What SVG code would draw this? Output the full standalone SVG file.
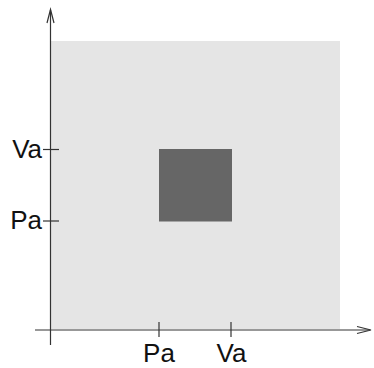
<svg xmlns="http://www.w3.org/2000/svg" width="374" height="368" viewBox="0 0 374 368">
<style>
.ax{stroke:#333;stroke-width:1.2;fill:none}
.lbl{font-family:"Liberation Sans",Arial,sans-serif;font-size:26px;fill:#111}
</style>
<rect width="374" height="368" fill="#fff"/>
<g id="region">
<rect x="51" y="41" width="289" height="288" fill="#e5e5e5"/>
</g>
<g id="square">
<rect x="159" y="149" width="73" height="72.5" fill="#666"/>
</g>
<g id="connectors">
<line class="ax" x1="50.5" y1="345" x2="50.5" y2="10"/>
<polyline class="ax" points="47,23 50.5,9.5 54,23"/>
<line class="ax" x1="35" y1="330" x2="370" y2="330"/>
<polyline class="ax" points="357,326.5 371,330 357,333.5"/>
<line class="ax" x1="43" y1="149.5" x2="59" y2="149.5"/>
<line class="ax" x1="43" y1="221" x2="59" y2="221"/>
<line class="ax" x1="159" y1="322" x2="159" y2="337"/>
<line class="ax" x1="231" y1="322" x2="231" y2="337"/>
</g>
<g id="labels">
<text class="lbl" x="42" y="158" text-anchor="end">Va</text>
<text class="lbl" x="42" y="229" text-anchor="end">Pa</text>
<text class="lbl" x="159" y="362" text-anchor="middle">Pa</text>
<text class="lbl" x="231.5" y="362" text-anchor="middle">Va</text>
</g>
</svg>
